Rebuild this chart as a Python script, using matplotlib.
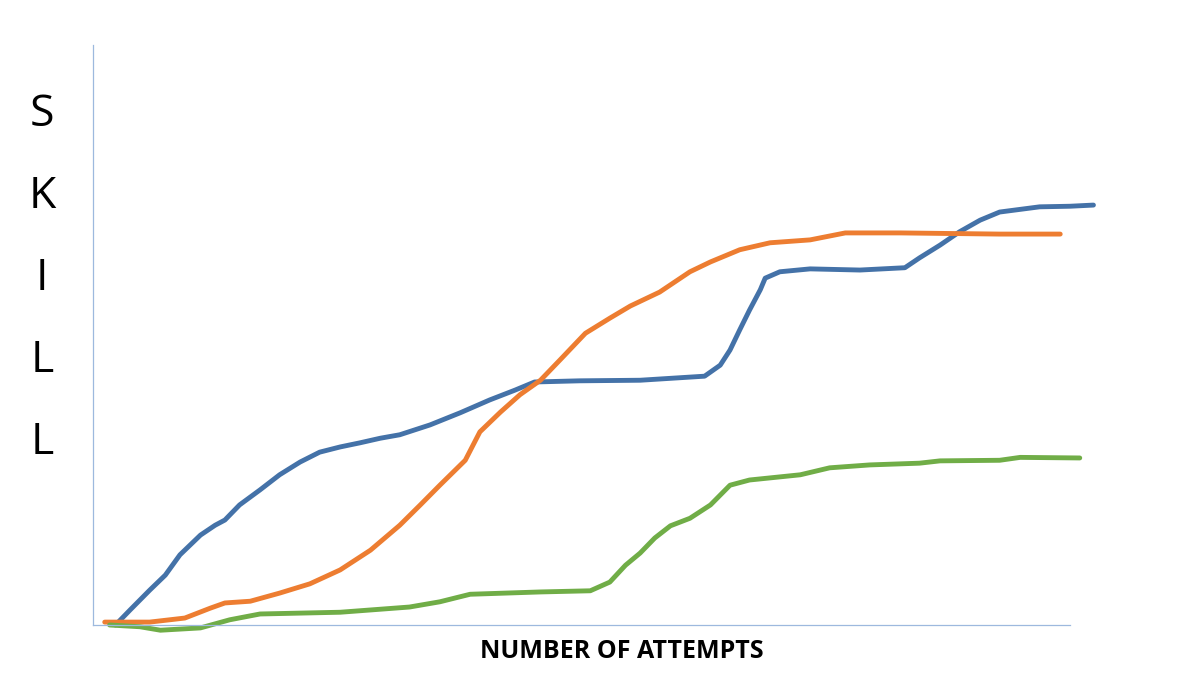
import matplotlib
matplotlib.use("Agg")
import matplotlib.pyplot as plt

blue_x = [2.3,3.8,5.8,7.4,8.9,11.0,12.5,13.5,15.0,17.1,19.1,21.2,23.2,25.3,27.3,29.4,31.4,34.5,37.6,40.6,43.2,45.2,49.8,56.0,62.6,64.2,65.2,66.2,67.2,68.3,68.8,70.3,73.4,78.5,83.1,84.6,86.7,88.7,90.8,92.8,96.9,100,102.4]
blue_y = [0,2.6,6.0,8.6,12.1,15.5,17.2,18.1,20.7,23.3,25.9,28.1,29.8,30.7,31.4,32.2,32.8,34.5,36.6,38.8,40.5,41.9,42.1,42.2,42.9,44.8,47.4,50.9,54.3,57.8,59.8,60.9,61.4,61.2,61.6,63.3,65.5,67.8,69.8,71.2,72.1,72.2,72.4]
orange_x = [1.2,5.8,9.4,12.0,13.5,16.1,19.1,22.2,25.3,28.4,31.4,33.5,35.5,38.1,39.6,41.7,43.7,45.8,47.8,50.4,52.9,55.0,58.0,61.1,63.2,66.2,69.3,73.4,77.0,82.6,92.8,99.0]
orange_y = [0.5,0.5,1.2,2.9,3.8,4.1,5.5,7.1,9.5,12.9,17.2,20.7,24.1,28.4,33.3,36.7,39.7,42.2,45.7,50.3,52.9,55.0,57.4,60.9,62.6,64.7,65.9,66.4,67.6,67.6,67.4,67.4]
green_x = [1.7,4.8,6.9,11.0,14.0,17.1,25.3,32.4,35.5,38.6,45.8,50.9,52.9,54.5,56.0,57.5,59.1,61.1,63.2,65.2,67.2,72.4,75.4,79.5,84.6,86.7,92.8,94.9,101.0]
green_y = [0,-0.3,-0.9,-0.5,0.9,1.9,2.2,3.1,4.0,5.3,5.7,5.9,7.4,10.3,12.4,15.0,17.1,18.4,20.7,24.1,25.0,25.9,27.1,27.6,27.9,28.3,28.4,28.9,28.8]

fig = plt.figure(figsize=(12, 6.75), dpi=100)
ax = fig.add_axes([93/1200, 50/675, 977/1200, 580/675])
ax.set_xlim(0, 100)
ax.set_ylim(0, 100)
lw = 3.5
ax.plot(blue_x, blue_y, color="#4472A8", lw=lw, clip_on=False, solid_capstyle="round")
ax.plot(orange_x, orange_y, color="#ED7D31", lw=lw, clip_on=False, solid_capstyle="round")
ax.plot(green_x, green_y, color="#70AD47", lw=lw, clip_on=False, solid_capstyle="round")
for s in ["top", "right"]:
    ax.spines[s].set_visible(False)
for s in ["left", "bottom"]:
    ax.spines[s].set_color("#9DB9DE")
    ax.spines[s].set_linewidth(0.9)
ax.set_xticks([]); ax.set_yticks([])

for i, ch in enumerate("SKILL"):
    fig.text(42/1200, 1 - (115 + i*82)/675, ch, fontsize=32, family="Open Sans",
             ha="center", va="center")
fig.text(622/1200, 1 - 652/675, "NUMBER OF ATTEMPTS", fontsize=18, fontweight="bold",
         family="Open Sans", ha="center", va="center")
fig.savefig("out.png", dpi=100, facecolor="white")
